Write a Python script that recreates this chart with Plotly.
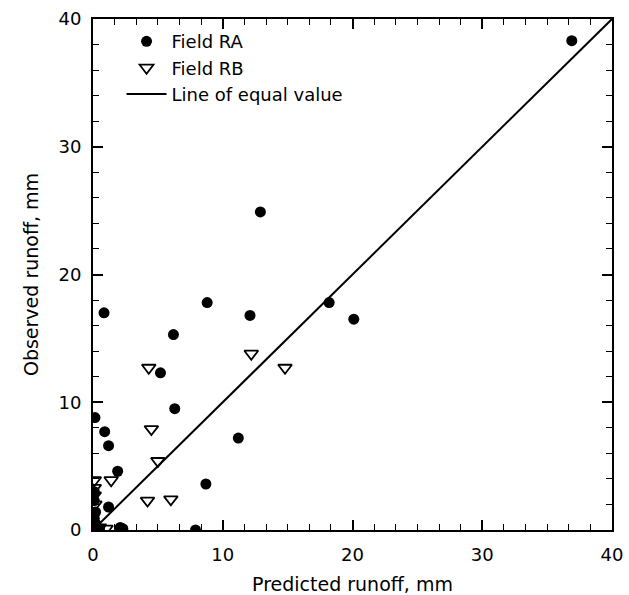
import plotly.graph_objects as go

ra_x = [36.9, 12.9, 0.85, 8.8, 12.1, 18.2, 20.1, 6.2, 5.2, 0.15, 6.3, 0.9, 1.2, 11.2, 1.9, 8.7, 1.2, 0.1, 0.1, 0.2, 0.1, 0.2, 0.1, 0.5, 0.3, 2.1, 2.3, 7.9]
ra_y = [38.3, 24.9, 17.0, 17.8, 16.8, 17.8, 16.5, 15.3, 12.3, 8.8, 9.5, 7.7, 6.6, 7.2, 4.6, 3.6, 1.8, 3.0, 2.3, 1.4, 0.9, 0.5, 0.1, 0.1, 0.0, 0.2, 0.1, 0.0]

rb_x = [4.3, 12.2, 14.8, 4.5, 5.0, 1.4, 4.2, 6.0, 0.1, 0.1, 0.1, 0.15, 0.5, 1.0]
rb_y = [12.7, 13.8, 12.7, 7.9, 5.4, 3.9, 2.3, 2.4, 3.9, 3.3, 2.7, 2.0, 0.2, 0.1]

eq_line = [0, 40]
x_ticks = [0, 10, 20, 30, 40]
y_ticks = [0, 10, 20, 30, 40]

FONT = "DejaVu Sans"

fig = go.Figure()
fig.add_trace(go.Scatter(x=ra_x, y=ra_y, mode="markers", name="Field RA",
                         marker=dict(symbol="circle", size=11, color="black")))
fig.add_trace(go.Scatter(x=rb_x, y=rb_y, mode="markers", name="Field RB",
                         marker=dict(symbol="triangle-down-open", size=12, color="black",
                                     line=dict(width=1.8, color="black"))))
fig.add_trace(go.Scatter(x=eq_line, y=eq_line, mode="lines", name="Line of equal value",
                         line=dict(color="black", width=2)))

axis_common = dict(
    showgrid=False, zeroline=False, showline=True, linecolor="black", linewidth=2,
    mirror="ticks", ticks="inside", ticklen=10, tickwidth=1.5, tickcolor="black",
    tickfont=dict(family=FONT, size=18, color="black"), automargin=False,
)

fig.update_xaxes(range=[0, 40], tickvals=x_ticks, ticktext=[str(v) for v in x_ticks],
                 ticklabelstandoff=7,
                 title=dict(text="Predicted runoff, mm", font=dict(family=FONT, size=19, color="black")),
                 minor=dict(tickvals=[i * 10 / 6 for i in range(25)], ticks="inside", ticklen=6, tickcolor="black", tickwidth=1.2),
                 **axis_common)
fig.update_yaxes(range=[0, 40], tickvals=y_ticks, ticktext=[str(v) for v in y_ticks],
                 ticklabelstandoff=6,
                 title=dict(text="Observed runoff, mm", font=dict(family=FONT, size=19, color="black")),
                 minor=dict(dtick=2, ticks="inside", ticklen=6, tickcolor="black", tickwidth=1.2),
                 **axis_common)

fig.update_layout(
    width=629, height=595,
    margin=dict(l=93, r=17, t=19, b=65),
    plot_bgcolor="white", paper_bgcolor="white",
    font=dict(family=FONT, color="black"),
    legend=dict(x=0.055, y=0.992, xanchor="left", yanchor="top",
                bgcolor="rgba(0,0,0,0)", font=dict(family=FONT, size=18, color="black"),
                itemwidth=40, tracegroupgap=0),
    showlegend=True,
)

fig.write_html("out.html")
